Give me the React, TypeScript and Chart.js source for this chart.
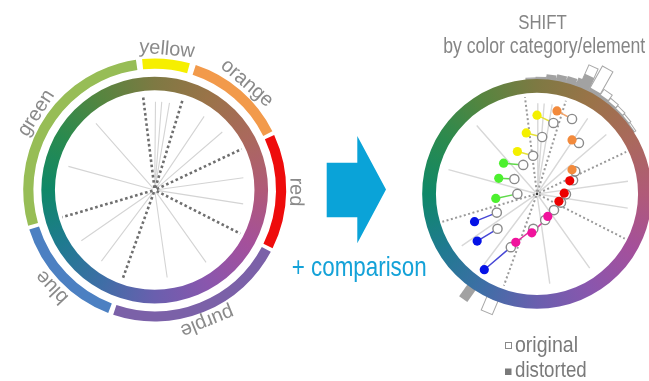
import React, { useEffect, useRef } from 'react';
import { Chart, registerables } from 'chart.js';

Chart.register(...registerables);

// ---------- page / layout ----------
const W = 649;
const H = 381;
const LEFT_CENTER = [151.5, 190];
const LEFT_PX_PER_UNIT = 1.155;
const RIGHT_CENTER = [541, 194];
const RIGHT_PX_PER_UNIT = 1.17;
const FONT = '"Liberation Sans", Arial, sans-serif';

// ---------- geometry in data units (hue ring outer radius = 100) ----------
const RING_OUTER = 100;
const RING_INNER = 88;
const CAT_OUTER = 116;
const CAT_INNER = 107;
const LABEL_RADIUS = 124.5;
const DARK_SPOKE_LEN = 85;
const LIGHT_SPOKE_LEN = 79;
const SPOKE_START = 2;

// ---------- hue ring colours (angle clockwise from top) ----------
const HUE_STOP_DEG = [0, 30, 60, 90, 120, 150, 180, 210, 240, 270, 300, 330, 360];
const HUE_STOP_COLORS = [
  '#7e7943', '#9a7348', '#aa695c', '#b05a78', '#a4509b', '#8a56ad', '#6a5fae',
  '#3e6ea6', '#1f7a90', '#0f8868', '#2a8a4e', '#56853f', '#7e7943',
];

// ---------- colour categories (left wheel) ----------
const CATEGORY_NAMES = ['yellow', 'orange', 'red', 'purple', 'blue', 'green'];
const CATEGORY_START = [-5.5, 18.2, 65.3, 118, 200.7, 254.2];
const CATEGORY_END = [15.5, 63.5, 116.3, 198.4, 252.5, 351.8];
const CATEGORY_COLORS = ['#f6ef00', '#f29a4b', '#ee0c0c', '#7b61a8', '#4c80c2', '#97bd56'];
const BOUNDARY_ANGLES = [-7, 17, 64.5, 117.3, 199.6, 253.4];
const LIGHT_SPOKE_ANGLES = [0.5, 4.5, 9.5, 33.5, 49, 82, 99, 145, 172, 216.5, 235, 285.5, 319];

// ---------- shift per colour element (right wheel), [a, b] in units ----------
const SHIFT_SERIES = ['yellow', 'green', 'blue', 'purple', 'orange', 'red'];
const yellowOriginal = [[14.3, 62.6], [4.5, 50.2], [-3.4, 33.6]];
const yellowDistorted = [[0, 69.5], [-9.4, 53.8], [-17.1, 37.4]];
const greenOriginal = [[-12.0, 25.6], [-19.7, 13.1], [-17.1, 0]];
const greenDistorted = [[-29.1, 27.1], [-33.3, 13.7], [-35.9, -4.0]];
const blueOriginal = [[-35.0, -16.5], [-34.4, -30.8], [-22.8, -47.0]];
const blueDistorted = [[-54.4, -24.5], [-52.1, -41.6], [-45.9, -66.9]];
const purpleOriginal = [[14.8, -14.3], [7.1, -23.1], [-3.2, -30.8]];
const purpleDistorted = [[9.4, -19.9], [-4.5, -34.4], [-18.5, -42.7]];
const orangeOriginal = [[30.5, 66.1], [36.5, 45.0], [33.3, 19.9]];
const orangeDistorted = [[17.4, 73.2], [30.5, 47.6], [30.5, 21.4]];
const redOriginal = [[31.4, 12.0], [25.2, -0.4], [20.9, -7.7]];
const redDistorted = [[28.5, 11.5], [23.7, 0.6], [19.1, -6.6]];
const SERIES_ORIGINAL = [yellowOriginal, greenOriginal, blueOriginal, purpleOriginal, orangeOriginal, redOriginal];
const SERIES_DISTORTED = [yellowDistorted, greenDistorted, blueDistorted, purpleDistorted, orangeDistorted, redDistorted];
const SERIES_DOT_COLORS = ['#f4f000', '#4df02f', '#0512e6', '#f0139c', '#f28a3c', '#ec0000'];
const SERIES_LINE_COLORS = ['#e6e23a', '#5fd94a', '#4747d6', '#e0309e', '#f2a46a', '#f04040'];

// ---------- hue histogram outside right wheel ----------
const HIST_ANGLES = [-3, 2, 7, 12, 17, 21.5, 24, 29.5, 35, 40, 45, 50, 55, 203, 215];
const HIST_WIDTH_DEG = [5, 5, 5, 5, 5, 4, 5, 6, 5, 5, 5, 5, 5, 6, 5];
const HIST_ORIGINAL = [1, 1.5, 2, 2, 3, 3, 21, 25, 8, 5, 4, 3, 2, 12, 0];
const HIST_DISTORTED = [0.8, 1.5, 4.5, 5.5, 6, 7.5, 12.5, 3.5, 2.5, 2, 1.5, 1.2, 0.8, 0, 12];

// ---------- helpers ----------
const rad = (d: number) => (d * Math.PI) / 180;
const polar = (deg: number, r: number) => ({ x: r * Math.sin(rad(deg)), y: r * Math.cos(rad(deg)) });
const GAP = { x: null as any, y: null as any };

function spokeData(angles: number[], len: number) {
  const out: any[] = [];
  angles.forEach((a) => {
    out.push(polar(a, SPOKE_START), polar(a, len), GAP);
  });
  return out;
}
function pairData(orig: number[][], dist: number[][]) {
  const out: any[] = [];
  dist.forEach((d, i) => {
    out.push({ x: d[0], y: d[1] }, { x: orig[i][0], y: orig[i][1] }, GAP);
  });
  return out;
}
const pts = (arr: number[][]) => arr.map((p) => ({ x: p[0], y: p[1] }));

function sideGeom(chart: any, xId: string, yId: string) {
  const xs = chart.scales[xId];
  const ys = chart.scales[yId];
  const cx = xs.getPixelForValue(0);
  const cy = ys.getPixelForValue(0);
  const k = xs.getPixelForValue(1) - cx;
  return { cx, cy, k };
}

function drawHueRing(ctx: CanvasRenderingContext2D, s: any) {
  const g = (ctx as any).createConicGradient(-Math.PI / 2, s.cx, s.cy);
  HUE_STOP_DEG.forEach((d, i) => g.addColorStop(d / 360, HUE_STOP_COLORS[i]));
  ctx.beginPath();
  ctx.arc(s.cx, s.cy, RING_OUTER * s.k, 0, Math.PI * 2);
  ctx.arc(s.cx, s.cy, RING_INNER * s.k, 0, Math.PI * 2, true);
  ctx.fillStyle = g;
  ctx.fill();
}

function drawBar(ctx: CanvasRenderingContext2D, s: any, deg: number, widthDeg: number, h: number, fill: string, stroke: string | null) {
  if (h <= 0) return;
  const r0 = RING_OUTER * s.k - 1;
  const w = rad(widthDeg) * RING_OUTER * s.k;
  ctx.save();
  ctx.translate(s.cx, s.cy);
  ctx.rotate(rad(deg));
  ctx.beginPath();
  ctx.rect(-w / 2, -(r0 + 1 + h * s.k), w, h * s.k + 1);
  ctx.fillStyle = fill;
  ctx.fill();
  if (stroke) {
    ctx.strokeStyle = stroke;
    ctx.lineWidth = 1;
    ctx.stroke();
  }
  ctx.restore();
}

function fittedText(ctx: CanvasRenderingContext2D, text: string, cx: number, baseline: number, size: number, width: number, color: string, align: 'center' | 'left' = 'center') {
  ctx.save();
  ctx.font = `${size}px ${FONT}`;
  const m = ctx.measureText(text).width;
  const sx = width / m;
  ctx.translate(cx, baseline);
  ctx.scale(sx, 1);
  ctx.textAlign = align;
  ctx.textBaseline = 'alphabetic';
  ctx.fillStyle = color;
  ctx.fillText(text, 0, 0);
  ctx.restore();
}

const diagramPlugin = {
  id: 'colorWheelDiagram',
  beforeDatasetsDraw(chart: any) {
    const ctx: CanvasRenderingContext2D = chart.ctx;
    const L = sideGeom(chart, 'xl', 'yl');
    const R = sideGeom(chart, 'xr', 'yr');

    // left: category arcs
    ctx.save();
    CATEGORY_START.forEach((a0, i) => {
      ctx.beginPath();
      ctx.arc(L.cx, L.cy, ((CAT_OUTER + CAT_INNER) / 2) * L.k, rad(a0 - 90), rad(CATEGORY_END[i] - 90));
      ctx.lineWidth = (CAT_OUTER - CAT_INNER) * L.k;
      ctx.lineCap = 'butt';
      ctx.strokeStyle = CATEGORY_COLORS[i];
      ctx.stroke();
    });
    // left: category labels
    ctx.font = `20px ${FONT}`;
    ctx.fillStyle = '#8a8a8a';
    ctx.textAlign = 'center';
    ctx.textBaseline = 'middle';
    CATEGORY_NAMES.forEach((name, i) => {
      const mid = (CATEGORY_START[i] + CATEGORY_END[i]) / 2;
      const p = polar(mid, LABEL_RADIUS);
      ctx.save();
      ctx.translate(L.cx + p.x * L.k, L.cy - p.y * L.k);
      ctx.rotate(rad(mid));
      ctx.fillText(name, 0, 0);
      ctx.restore();
    });
    drawHueRing(ctx, L);

    // right: hue histogram bars (original outlined, distorted grey)
    HIST_ANGLES.forEach((a, i) => drawBar(ctx, R, a, HIST_WIDTH_DEG[i], HIST_ORIGINAL[i], '#ffffff', '#a8a8a8'));
    HIST_ANGLES.forEach((a, i) => drawBar(ctx, R, a, HIST_WIDTH_DEG[i], HIST_DISTORTED[i], '#a2a2a2', null));
    drawHueRing(ctx, R);

    // arrow
    ctx.beginPath();
    ctx.moveTo(326.7, 162.7);
    ctx.lineTo(357.3, 162.7);
    ctx.lineTo(357.3, 136);
    ctx.lineTo(386, 189.5);
    ctx.lineTo(357.3, 243.3);
    ctx.lineTo(357.3, 217.3);
    ctx.lineTo(326.7, 217.3);
    ctx.closePath();
    ctx.fillStyle = '#0aa3d8';
    ctx.fill();

    // texts
    fittedText(ctx, '+ comparison', 359.2, 276, 28, 135, '#14a2d8');
    fittedText(ctx, 'SHIFT', 542.5, 29.3, 20, 48.5, '#858585');
    fittedText(ctx, 'by color category/element', 544.2, 53, 22, 202, '#858585');
    // legend
    ctx.strokeStyle = '#8a8a8a';
    ctx.lineWidth = 1;
    ctx.strokeRect(505.5, 342.5, 6, 6);
    ctx.fillStyle = '#7a7a7a';
    ctx.fillRect(505, 368.5, 6.5, 6.5);
    fittedText(ctx, 'original', 515, 351.7, 22, 63, '#7a7a7a', 'left');
    fittedText(ctx, 'distorted', 515, 377, 22, 71.7, '#7a7a7a', 'left');
    ctx.restore();
  },
};

function buildDatasets() {
  const ds: any[] = [];
  const lineBase = { type: 'scatter', showLine: true, spanGaps: false, pointRadius: 0, pointHoverRadius: 0, fill: false };
  // left spokes
  ds.push({ ...lineBase, label: 'left boundaries', xAxisID: 'xl', yAxisID: 'yl', data: spokeData(BOUNDARY_ANGLES, DARK_SPOKE_LEN), borderColor: '#6e6e6e', borderWidth: 2.6, borderDash: [2.6, 2.6], order: 4 });
  ds.push({ ...lineBase, label: 'left elements', xAxisID: 'xl', yAxisID: 'yl', data: spokeData(LIGHT_SPOKE_ANGLES, LIGHT_SPOKE_LEN), borderColor: '#d4d4d4', borderWidth: 1.1, order: 5 });
  // right spokes
  ds.push({ ...lineBase, label: 'right boundaries', xAxisID: 'xr', yAxisID: 'yr', data: spokeData(BOUNDARY_ANGLES, DARK_SPOKE_LEN + 1), borderColor: '#9a9a9a', borderWidth: 2, borderDash: [2, 2.5], order: 4 });
  ds.push({ ...lineBase, label: 'right elements', xAxisID: 'xr', yAxisID: 'yr', data: spokeData(LIGHT_SPOKE_ANGLES, LIGHT_SPOKE_LEN + 1), borderColor: '#d8d8d8', borderWidth: 1.4, order: 5 });
  // shift lines and points
  SHIFT_SERIES.forEach((name, i) => {
    ds.push({ ...lineBase, label: name + ' shift', xAxisID: 'xr', yAxisID: 'yr', data: pairData(SERIES_ORIGINAL[i], SERIES_DISTORTED[i]), borderColor: SERIES_LINE_COLORS[i], borderWidth: 1.5, order: 3 });
    ds.push({ type: 'scatter', label: name + ' original', xAxisID: 'xr', yAxisID: 'yr', data: pts(SERIES_ORIGINAL[i]), pointRadius: 4.6, pointBackgroundColor: '#ffffff', pointBorderColor: '#8a8a8a', pointBorderWidth: 1.4, order: 2 });
    ds.push({ type: 'scatter', label: name + ' distorted', xAxisID: 'xr', yAxisID: 'yr', data: pts(SERIES_DISTORTED[i]), pointRadius: 4.6, pointBackgroundColor: SERIES_DOT_COLORS[i], pointBorderColor: SERIES_DOT_COLORS[i], pointBorderWidth: 0, order: 1 });
  });
  ds.push({ type: 'scatter', label: 'centre', xAxisID: 'xr', yAxisID: 'yr', data: [{ x: 0, y: 0 }], pointRadius: 1.3, pointBackgroundColor: '#333333', pointBorderWidth: 0, order: 1 });
  return ds;
}

export default function App() {
  const ref = useRef<HTMLCanvasElement>(null);
  useEffect(() => {
    const kL = LEFT_PX_PER_UNIT;
    const kR = RIGHT_PX_PER_UNIT;
    const chart = new Chart(ref.current as HTMLCanvasElement, {
      type: 'scatter',
      data: { datasets: buildDatasets() },
      options: {
        animation: false,
        responsive: false,
        devicePixelRatio: 1,
        events: [],
        layout: { padding: 0 },
        plugins: { legend: { display: false }, tooltip: { enabled: false }, title: { display: false } },
        scales: {
          xl: { type: 'linear', axis: 'x', position: 'bottom', display: false, min: -LEFT_CENTER[0] / kL, max: (W - LEFT_CENTER[0]) / kL },
          yl: { type: 'linear', axis: 'y', position: 'left', display: false, min: -(H - LEFT_CENTER[1]) / kL, max: LEFT_CENTER[1] / kL },
          xr: { type: 'linear', axis: 'x', position: 'bottom', display: false, min: -RIGHT_CENTER[0] / kR, max: (W - RIGHT_CENTER[0]) / kR },
          yr: { type: 'linear', axis: 'y', position: 'left', display: false, min: -(H - RIGHT_CENTER[1]) / kR, max: RIGHT_CENTER[1] / kR },
        },
      } as any,
      plugins: [diagramPlugin],
    } as any);
    return () => chart.destroy();
  }, []);
  return (
    <div style={{ position: 'fixed', left: 0, top: 0, width: W, height: H, background: '#ffffff' }}>
      <canvas ref={ref} width={W} height={H} style={{ display: 'block', width: W, height: H }} />
    </div>
  );
}
